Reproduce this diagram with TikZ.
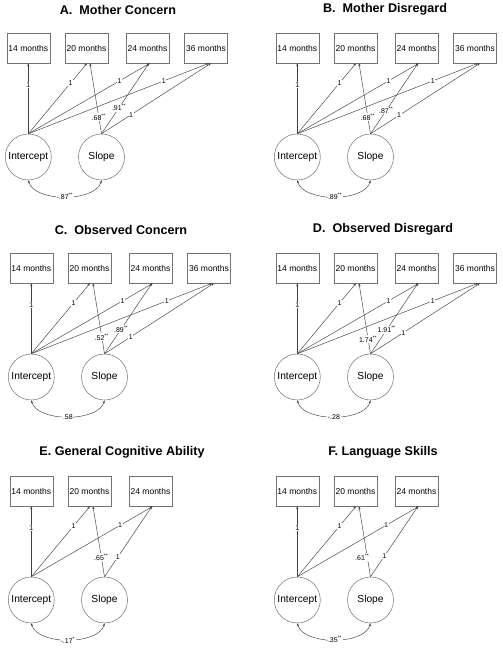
\documentclass[tikz,border=0pt]{standalone}
\usepackage{fontspec}
\setmainfont{Liberation Sans}
\usetikzlibrary{arrows.meta,calc}
\tikzset{
  obs/.style={draw=black!55, line width=0.5pt, minimum width=43pt, minimum height=30pt, inner sep=0pt, font=\fontsize{8.5}{9}\selectfont},
  lat/.style={circle, draw=black!55, line width=0.5pt, minimum size=46pt, inner sep=0pt, font=\fontsize{10.2}{11}\selectfont},
  load/.style={draw=black!75, line width=0.45pt, -{Stealth[length=3pt,width=2.2pt]}},
  covar/.style={draw=black!75, line width=0.45pt, {Stealth[length=3pt,width=2.2pt]}-{Stealth[length=3pt,width=2.2pt]}},
  lbl/.style={fill=white, inner sep=0.6pt, font=\fontsize{7}{8}\selectfont},
  ttl/.style={font=\bfseries\fontsize{12.6}{14}\selectfont}
}
\newcommand{\sst}[1]{\textsuperscript{#1}}
\begin{document}
\begin{tikzpicture}[x=1pt,y=-1pt]
\useasboundingbox (0,0) rectangle (503,648);
\fill[white] (0,0) rectangle (503,648);

% ---------- A ----------
\begin{scope}[shift={(0,0)}]
\node[ttl] (aT) at (118,9.5) {A.~~Mother Concern};
\node[obs] (a14) at (28.3,48) {14 months};
\node[obs] (a20) at (86.5,48) {20 months};
\node[obs] (a24) at (147.5,48) {24 months};
\node[obs] (a36) at (206,48) {36 months};
\node[lat] (aI) at (28.3,157) {Intercept};
\node[lat] (aS) at (101.5,157) {Slope};
\draw[load] (aI.north) -- node[lbl,pos=0.69]{1} (a14.south);
\draw[load] (aI.north) -- node[lbl,pos=0.72]{1} ($(a20.south)+(0.5,0)$);
\draw[load] (aI.north) -- node[lbl,pos=0.75]{1} ($(a24.south)+(2.5,0)$);
\draw[load] (aI.north) -- node[lbl,pos=0.75]{1} ($(a36.south)+(3,0)$);
\draw[load] (aS.north) -- node[lbl,pos=0.24]{.68\sst{**}} ($(a20.south)+(3.5,0)$);
\draw[load] (aS.north) -- node[lbl,pos=0.37]{.91\sst{**}} ($(a24.south)+(1.5,0)$);
\draw[load] (aS.north) -- node[lbl,pos=0.27]{1} ($(a36.south)+(5,0)$);
\draw[covar] (aI.south) to[out=-75,in=-105,looseness=0.8] node[lbl]{-.87\sst{**}} (aS.south);
\end{scope}

% ---------- B ----------
\begin{scope}[shift={(269,0)}]
\node[ttl] (bT) at (116,9.5) {B.~~Mother Disregard};
\node[obs] (b14) at (28.3,48) {14 months};
\node[obs] (b20) at (86.5,48) {20 months};
\node[obs] (b24) at (147.5,48) {24 months};
\node[obs] (b36) at (206,48) {36 months};
\node[lat] (bI) at (28.3,157) {Intercept};
\node[lat] (bS) at (101.5,157) {Slope};
\draw[load] (bI.north) -- node[lbl,pos=0.69]{1} (b14.south);
\draw[load] (bI.north) -- node[lbl,pos=0.72]{1} ($(b20.south)+(0.5,0)$);
\draw[load] (bI.north) -- node[lbl,pos=0.75]{1} ($(b24.south)+(2.5,0)$);
\draw[load] (bI.north) -- node[lbl,pos=0.75]{1} ($(b36.south)+(3,0)$);
\draw[load] (bS.north) -- node[lbl,pos=0.24]{.68\sst{**}} ($(b20.south)+(3.5,0)$);
\draw[load] (bS.north) -- node[lbl,pos=0.33]{.87\sst{**}} ($(b24.south)+(1.5,0)$);
\draw[load] (bS.north) -- node[lbl,pos=0.26]{1} ($(b36.south)+(5,0)$);
\draw[covar] (bI.south) to[out=-75,in=-105,looseness=0.8] node[lbl]{-.89\sst{**}} (bS.south);
\end{scope}

% ---------- C ----------
\begin{scope}[shift={(3,220)}]
\node[ttl] (cT) at (118,9.5) {C.~~Observed Concern};
\node[obs] (c14) at (28.3,48) {14 months};
\node[obs] (c20) at (86.5,48) {20 months};
\node[obs] (c24) at (147.5,48) {24 months};
\node[obs] (c36) at (206,48) {36 months};
\node[lat] (cI) at (28.3,157) {Intercept};
\node[lat] (cS) at (101.5,157) {Slope};
\draw[load] (cI.north) -- node[lbl,pos=0.69]{1} (c14.south);
\draw[load] (cI.north) -- node[lbl,pos=0.72]{1} ($(c20.south)+(0.5,0)$);
\draw[load] (cI.north) -- node[lbl,pos=0.75]{1} ($(c24.south)+(2.5,0)$);
\draw[load] (cI.north) -- node[lbl,pos=0.75]{1} ($(c36.south)+(3,0)$);
\draw[load] (cS.north) -- node[lbl,pos=0.24]{.52\sst{**}} ($(c20.south)+(3.5,0)$);
\draw[load] (cS.north) -- node[lbl,pos=0.35]{.89\sst{**}} ($(c24.south)+(1.5,0)$);
\draw[load] (cS.north) -- node[lbl,pos=0.24]{1} ($(c36.south)+(5,0)$);
\draw[covar] (cI.south) to[out=-75,in=-105,looseness=0.8] node[lbl]{.58} (cS.south);
\end{scope}

% ---------- D ----------
\begin{scope}[shift={(269,220)}]
\node[ttl] (dT) at (114,9.5) {D.~~Observed Disregard};
\node[obs] (d14) at (28.3,48) {14 months};
\node[obs] (d20) at (86.5,48) {20 months};
\node[obs] (d24) at (147.5,48) {24 months};
\node[obs] (d36) at (206,48) {36 months};
\node[lat] (dI) at (28.3,157) {Intercept};
\node[lat] (dS) at (101.5,157) {Slope};
\draw[load] (dI.north) -- node[lbl,pos=0.69]{1} (d14.south);
\draw[load] (dI.north) -- node[lbl,pos=0.72]{1} ($(d20.south)+(0.5,0)$);
\draw[load] (dI.north) -- node[lbl,pos=0.75]{1} ($(d24.south)+(2.5,0)$);
\draw[load] (dI.north) -- node[lbl,pos=0.75]{1} ($(d36.south)+(3,0)$);
\draw[load] (dS.north) -- node[lbl,pos=0.21]{1.74\sst{**}} ($(d20.south)+(3.5,0)$);
\draw[load] (dS.north) -- node[lbl,pos=0.34]{1.91\sst{**}} ($(d24.south)+(1.5,0)$);
\draw[load] (dS.north) -- node[lbl,pos=0.30]{1} ($(d36.south)+(5,0)$);
\draw[covar] (dI.south) to[out=-75,in=-105,looseness=0.8] node[lbl]{-.28} (dS.south);
\end{scope}

% ---------- E ----------
\begin{scope}[shift={(3,443)}]
\node[ttl] (eT) at (119,9.7) {E. General Cognitive Ability};
\node[obs] (e14) at (28.3,48) {14 months};
\node[obs] (e20) at (86.5,48) {20 months};
\node[obs] (e24) at (147.5,48) {24 months};
\node[lat] (eI) at (28.3,157) {Intercept};
\node[lat] (eS) at (101.5,157) {Slope};
\draw[load] (eI.north) -- node[lbl,pos=0.69]{1} (e14.south);
\draw[load] (eI.north) -- node[lbl,pos=0.72]{1} ($(e20.south)+(0.5,0)$);
\draw[load] (eI.north) -- node[lbl,pos=0.73]{1} ($(e24.south)+(2.5,0)$);
\draw[load] (eS.north) -- node[lbl,pos=0.28]{.65\sst{**}} ($(e20.south)+(3.5,0)$);
\draw[load] (eS.north) -- node[lbl,pos=0.28]{1} ($(e24.south)+(1.5,0)$);
\draw[covar] (eI.south) to[out=-75,in=-105,looseness=0.8] node[lbl]{-.17\sst{*}} (eS.south);
\end{scope}

% ---------- F ----------
\begin{scope}[shift={(269,443)}]
\node[ttl] (fT) at (114,9.7) {F. Language Skills};
\node[obs] (f14) at (28.3,48) {14 months};
\node[obs] (f20) at (86.5,48) {20 months};
\node[obs] (f24) at (147.5,48) {24 months};
\node[lat] (fI) at (28.3,157) {Intercept};
\node[lat] (fS) at (101.5,157) {Slope};
\draw[load] (fI.north) -- node[lbl,pos=0.69]{1} (f14.south);
\draw[load] (fI.north) -- node[lbl,pos=0.72]{1} ($(f20.south)+(0.5,0)$);
\draw[load] (fI.north) -- node[lbl,pos=0.73]{1} ($(f24.south)+(2.5,0)$);
\draw[load] (fS.north) -- node[lbl,pos=0.28,xshift=-5pt]{.61\sst{**}} ($(f20.south)+(3.5,0)$);
\draw[load] (fS.north) -- node[lbl,pos=0.29]{1} ($(f24.south)+(1.5,0)$);
\draw[covar] (fI.south) to[out=-75,in=-105,looseness=0.8] node[lbl]{-.35\sst{**}} (fS.south);
\end{scope}
\end{tikzpicture}
\end{document}
